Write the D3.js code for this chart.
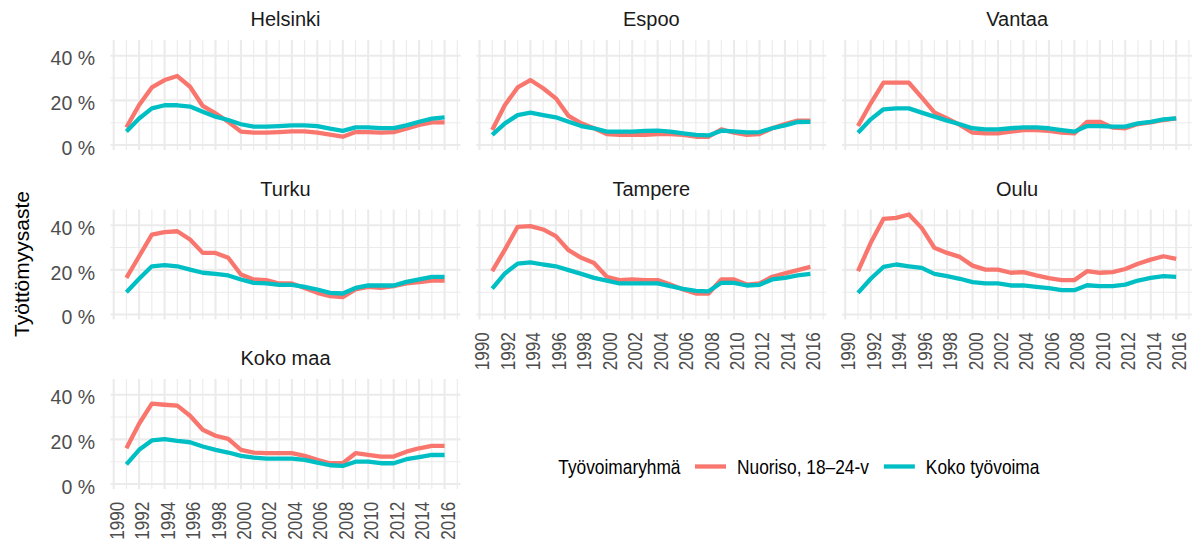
<!DOCTYPE html>
<html><head><meta charset="utf-8">
<script src="https://cdn.jsdelivr.net/npm/d3@7"></script>
<style>
body{margin:0;background:#fff}
svg{display:block;font-family:"Liberation Sans",Arial,sans-serif}
</style>
</head><body>
<svg id="c" width="1192" height="543"></svg>
<script>
// ---------- data ----------
const years = [1991,1992,1993,1994,1995,1996,1997,1998,1999,2000,2001,2002,2003,2004,2005,2006,2007,2008,2009,2010,2011,2012,2013,2014,2015,2016];
const cities = ["Helsinki","Espoo","Vantaa","Turku","Tampere","Oulu","Koko maa"];
const seriesNames = ["Nuoriso, 18–24-v","Koko työvoima"];
const seriesColors = ["#F8766D","#00BFC4"];
const legendTitle = "Työvoimaryhmä";
const yAxisTitle = "Työttömyysaste";
const yTicks = [0,20,40];
const yMinorTicks = [10,30];
const xTicks = [1990,1992,1994,1996,1998,2000,2002,2004,2006,2008,2010,2012,2014,2016];
const xMinorTicks = [1991,1993,1995,1997,1999,2001,2003,2005,2007,2009,2011,2013,2015,2017];

const helsinkiYouth = [7.9,17.9,25.8,29.1,30.9,26.1,17.5,14.2,10.4,6.0,5.5,5.5,5.8,6.1,6.1,5.5,4.6,3.7,5.8,5.8,5.5,5.8,7.3,9.0,10.1,10.1];
const helsinkiAll   = [6.0,11.9,16.4,17.8,17.8,17.2,14.9,12.7,11.2,9.3,8.2,8.2,8.5,8.8,8.8,8.5,7.3,6.3,7.9,7.9,7.6,7.6,8.8,10.4,11.8,12.4];
const espooYouth    = [6.7,17.9,25.8,29.1,25.4,20.9,13.0,9.7,7.5,4.9,4.5,4.5,4.6,4.9,4.9,4.5,3.7,3.7,7.0,5.5,4.5,4.9,7.5,9.4,10.9,10.9];
const espooAll      = [4.5,9.7,13.4,14.5,13.4,12.4,10.4,8.5,7.5,6.0,6.0,6.0,6.3,6.4,6.0,5.2,4.5,4.3,6.4,6.1,5.7,5.8,7.5,8.8,10.3,10.4];
const vantaaYouth   = [8.5,18.7,27.9,27.9,27.9,21.3,14.6,11.9,9.0,5.5,5.2,5.2,6.0,6.7,6.7,6.3,5.5,5.2,10.4,10.4,7.8,7.5,9.4,10.1,11.2,11.9];
const vantaaAll     = [5.5,11.5,16.0,16.4,16.4,14.5,12.7,10.9,9.3,7.5,7.0,7.0,7.5,7.9,7.9,7.5,6.7,6.0,8.5,8.5,8.2,8.2,9.7,10.4,11.5,11.9];
const turkuYouth    = [16.4,26.1,35.8,36.9,37.3,33.6,27.6,27.6,25.4,17.9,15.7,15.4,13.9,13.9,11.9,9.7,8.2,7.8,11.2,12.4,11.9,12.7,13.9,14.5,15.2,15.2];
const turkuAll      = [10.0,16.0,21.6,22.1,21.6,20.1,18.7,18.2,17.5,15.7,14.2,13.9,13.3,13.3,12.4,11.2,9.7,9.4,11.9,13.0,13.0,13.0,14.6,15.7,16.9,16.9];
const tampereYouth  = [19.4,29.1,39.3,39.6,38.1,35.1,28.8,25.4,23.1,16.9,15.4,15.7,15.4,15.4,13.4,11.2,9.4,9.4,15.7,15.7,13.4,13.9,16.9,18.4,19.9,21.3];
const tampereAll    = [11.6,18.4,22.8,23.4,22.4,21.6,19.9,18.2,16.4,15.2,13.9,13.9,13.9,13.9,12.7,11.5,10.6,10.4,14.2,14.2,13.0,13.3,15.7,16.4,17.5,18.2];
const ouluYouth     = [19.4,32.1,42.8,43.3,44.8,38.8,29.9,27.6,25.8,21.9,20.1,20.1,18.7,19.0,17.5,16.3,15.4,15.4,19.4,18.7,19.0,20.4,22.7,24.6,26.1,24.9];
const ouluAll       = [9.7,16.0,21.3,22.4,21.6,20.9,18.2,17.2,16.0,14.5,13.9,13.9,13.0,13.0,12.4,11.8,10.9,10.9,13.1,12.7,12.7,13.4,15.2,16.4,17.2,16.9];
const kokoYouth     = [16.0,27.0,36.0,35.5,35.1,30.6,24.3,21.6,20.2,15.3,14.1,13.8,13.8,13.8,12.6,10.8,9.3,9.3,13.8,13.0,12.3,12.3,14.5,16.0,17.1,17.1];
const kokoAll       = [8.8,15.3,19.5,20.1,19.3,18.7,16.8,15.3,14.1,12.6,11.8,11.4,11.4,11.4,10.8,9.6,8.4,8.1,10.0,10.0,9.3,9.3,11.1,12.0,13.0,13.0];

const youthByCity = [helsinkiYouth, espooYouth, vantaaYouth, turkuYouth, tampereYouth, ouluYouth, kokoYouth];
const allByCity   = [helsinkiAll, espooAll, vantaaAll, turkuAll, tampereAll, ouluAll, kokoAll];

// ---------- layout ----------
const svg = d3.select("#c");
const colLeft = [110.5, 476.3, 842.1];
const rowTop = [40, 209.5, 379];
const pw = 350, ph = 110;
const gridColor = "#EBEBEB";
const tickColor = "#4D4D4D";

const x = d3.scaleLinear()
  .domain([d3.min(years) - 0.05*(d3.max(years)-d3.min(years)), d3.max(years) + 0.05*(d3.max(years)-d3.min(years))])
  .range([0, pw]);
const ymax = d3.max([].concat(...youthByCity, ...allByCity));
const ypad = 0.05 * ymax;
const y = d3.scaleLinear().domain([-ypad, ymax + ypad]).range([ph, 0]);

const line = d3.line().x(d => x(d[0])).y(d => y(d[1]));

cities.forEach((city, i) => {
  const col = i % 3, row = Math.floor(i / 3);
  const g = svg.append("g").attr("transform", `translate(${colLeft[col]},${rowTop[row]})`);

  // grid
  g.selectAll(".ymin").data(yMinorTicks).join("line")
    .attr("x1", 0).attr("x2", pw).attr("y1", d => y(d)).attr("y2", d => y(d))
    .attr("stroke", gridColor).attr("stroke-width", 1.1);
  g.selectAll(".xmin").data(xMinorTicks.filter(d => x(d) <= pw)).join("line")
    .attr("y1", 0).attr("y2", ph).attr("x1", d => x(d)).attr("x2", d => x(d))
    .attr("stroke", gridColor).attr("stroke-width", 1.1);
  g.append("g").selectAll("line").data(yTicks).join("line")
    .attr("x1", 0).attr("x2", pw).attr("y1", d => y(d)).attr("y2", d => y(d))
    .attr("stroke", gridColor).attr("stroke-width", 2.1);
  g.append("g").selectAll("line").data(xTicks).join("line")
    .attr("y1", 0).attr("y2", ph).attr("x1", d => x(d)).attr("x2", d => x(d))
    .attr("stroke", gridColor).attr("stroke-width", 2.1);

  // lines
  [youthByCity[i], allByCity[i]].forEach((vals, s) => {
    g.append("path")
      .datum(years.map((yr, k) => [yr, vals[k]]))
      .attr("d", line)
      .attr("fill", "none")
      .attr("stroke", seriesColors[s])
      .attr("stroke-width", 4.3)
      .attr("stroke-linejoin", "round");
  });

  // strip title
  g.append("text").attr("x", pw/2).attr("y", -14)
    .attr("text-anchor", "middle").attr("font-size", 20).attr("fill", "#1A1A1A")
    .text(city);

  // y axis
  if (col === 0) {
    const ya = g.append("g").call(d3.axisLeft(y).tickValues(yTicks).tickSize(0).tickPadding(15.5).tickFormat(d => d + " %"));
    ya.select(".domain").remove();
    ya.selectAll("text").attr("font-size", 19.5).attr("fill", tickColor).attr("dy", "0.47em")
      .attr("font-family", '"Liberation Sans",Arial,sans-serif');
  }
  // x axis
  const showX = (row === 2) || (row === 1 && col > 0);
  if (showX) {
    const sx = 0.855;
    const xa = g.append("g").attr("transform", `translate(0,${ph})`)
      .call(d3.axisBottom(x).tickValues(xTicks).tickSize(0).tickFormat(d3.format("d")));
    xa.select(".domain").remove();
    xa.selectAll("text")
      .attr("font-size", 20).attr("fill", tickColor)
      .attr("font-family", '"Liberation Sans",Arial,sans-serif')
      .attr("text-anchor", "end")
      .attr("dy", 0)
      .attr("x", -12.7 / sx).attr("y", 9.5)
      .attr("transform", `rotate(-90) scale(${sx},1)`);
  }
});

// y axis title
svg.append("text")
  .attr("transform", "translate(29,264) rotate(-90)")
  .attr("text-anchor", "middle").attr("font-size", 21).attr("fill", "#000")
  .text(yAxisTitle);

// legend
const sl = 0.845;
const lg = svg.append("g");
let lx = 558.3;
const lb = 474, lkey = 466.5;
function legText(str) {
  const t = lg.append("text").attr("font-size", 20.5).attr("fill", "#000")
    .attr("transform", `translate(${lx},${lb}) scale(${sl},1)`).text(str);
  return t.node().getComputedTextLength() * sl;
}
lx += legText(legendTitle) + 14.5;
seriesNames.forEach((name, s) => {
  lg.append("line").attr("x1", lx).attr("x2", lx + 31).attr("y1", lkey).attr("y2", lkey)
    .attr("stroke", seriesColors[s]).attr("stroke-width", 4.3);
  lx += 31 + 11;
  lx += legText(name) + 15;
});
</script>
</body></html>
